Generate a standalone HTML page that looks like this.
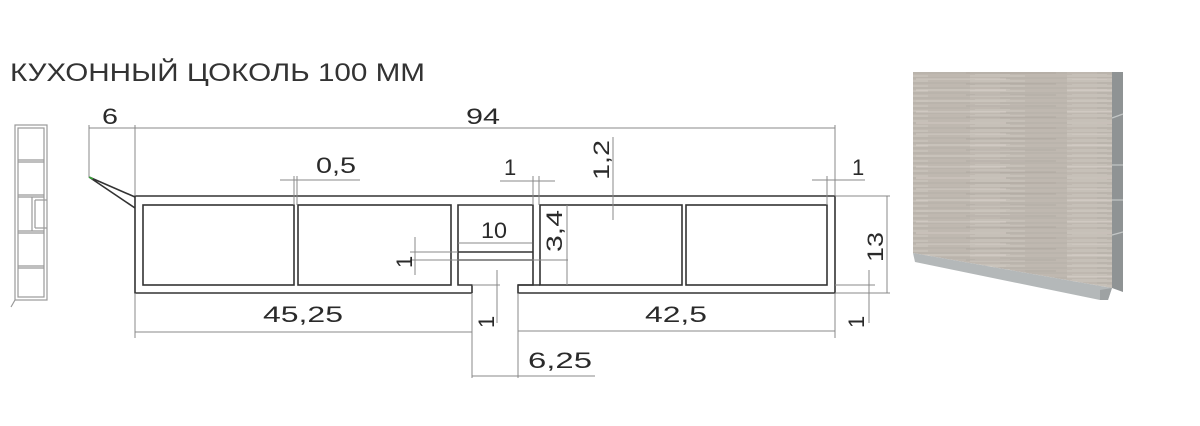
<!DOCTYPE html>
<html><head><meta charset="utf-8"><style>
html,body{margin:0;padding:0;background:#fff;width:1200px;height:426px;overflow:hidden}
svg{display:block}
text{font-family:"Liberation Sans","DejaVu Sans",sans-serif;fill:#2a2a2a}
</style></head><body>
<svg width="1200" height="426" viewBox="0 0 1200 426" xmlns="http://www.w3.org/2000/svg">
<defs>
<pattern id="grain" width="97" height="5" patternUnits="userSpaceOnUse">
<rect width="97" height="5" fill="#bfb8b0"/>
<line x1="0" y1="1" x2="55" y2="1" stroke="#d3cdc6" stroke-width="0.7"/>
<line x1="30" y1="3" x2="97" y2="3" stroke="#aea69e" stroke-width="0.6"/>
<line x1="5" y1="4.5" x2="40" y2="4.5" stroke="#cec8c1" stroke-width="0.5"/>
</pattern>
<pattern id="grain2" width="151" height="11" patternUnits="userSpaceOnUse">
<line x1="10" y1="2" x2="100" y2="2" stroke="#d8d2cb" stroke-width="0.8"/>
<line x1="60" y1="7" x2="150" y2="7" stroke="#a59d95" stroke-width="0.6"/>
</pattern>
</defs>

<text x="10" y="81" font-size="25" textLength="415" lengthAdjust="spacingAndGlyphs" style="fill:#333">КУХОННЫЙ ЦОКОЛЬ 100 ММ</text>

<!-- thumbnail -->
<g fill="none" stroke="#999" stroke-width="1.2">
<rect x="15" y="125" width="32" height="175"/>
<rect x="18" y="128" width="26" height="169"/>
<line x1="18" y1="160" x2="44" y2="160"/><line x1="18" y1="162" x2="44" y2="162"/>
<line x1="18" y1="195" x2="44" y2="195"/><line x1="18" y1="197" x2="44" y2="197"/>
<line x1="18" y1="231" x2="44" y2="231"/><line x1="18" y1="233" x2="44" y2="233"/>
<line x1="18" y1="266" x2="44" y2="266"/><line x1="18" y1="268" x2="44" y2="268"/>
<line x1="32" y1="197" x2="32" y2="231"/><line x1="35" y1="200" x2="35" y2="228"/>
<line x1="35" y1="200" x2="47" y2="200"/><line x1="35" y1="228" x2="47" y2="228"/>
<line x1="15" y1="300" x2="11" y2="307"/>
</g>

<!-- profile -->
<g fill="none" stroke="#333" stroke-width="1.6">
<path d="M472 293 H135 V196 H835 V293 H518 V285 H540"/>
<path d="M472 293 V285 H458 V205 H533 V285 H518"/>
<path d="M89 177 L135 197 M89 177 L135 208"/>
<rect x="143" y="205" width="151" height="80"/>
<rect x="298" y="205" width="153" height="80"/>
<rect x="540" y="205" width="142" height="80"/>
<rect x="686" y="205" width="141" height="80"/>
<line x1="458" y1="252" x2="533" y2="252"/>
<line x1="458" y1="260" x2="533" y2="260"/>
</g>
<line x1="89" y1="177" x2="93" y2="179" stroke="#3a3" stroke-width="1.5"/>

<!-- dimension lines -->
<g stroke="#888" stroke-width="1" fill="none">
<line x1="89" y1="128" x2="835" y2="128"/>
<line x1="89" y1="125" x2="89" y2="177"/>
<line x1="135" y1="125" x2="135" y2="196"/>
<line x1="835" y1="125" x2="835" y2="196"/>
<line x1="280" y1="180" x2="360" y2="180"/>
<line x1="294" y1="176" x2="294" y2="205"/><line x1="297" y1="176" x2="297" y2="205"/>
<line x1="500" y1="181" x2="555" y2="181"/>
<line x1="533" y1="176" x2="533" y2="205"/><line x1="539" y1="176" x2="539" y2="205"/>
<line x1="613" y1="137" x2="613" y2="220"/>
<line x1="812" y1="180" x2="865" y2="180"/>
<line x1="827" y1="176" x2="827" y2="205"/>
<line x1="458" y1="243" x2="532" y2="243"/>
<line x1="415" y1="237" x2="415" y2="275"/>
<line x1="410" y1="252" x2="458" y2="252"/>
<line x1="410" y1="260" x2="568" y2="260"/>
<line x1="567" y1="205" x2="567" y2="285"/>
<line x1="887" y1="196" x2="887" y2="293"/>
<line x1="835" y1="196" x2="890" y2="196"/>
<line x1="835" y1="293" x2="890" y2="293"/>
<line x1="835" y1="285" x2="875" y2="285"/>
<line x1="869" y1="270" x2="869" y2="323"/>
<line x1="135" y1="293" x2="135" y2="338"/>
<line x1="135" y1="332" x2="472" y2="332"/>
<line x1="835" y1="293" x2="835" y2="338"/>
<line x1="518" y1="331" x2="835" y2="331"/>
<line x1="497" y1="270" x2="497" y2="323"/>
<line x1="472" y1="285" x2="500" y2="285"/>
<line x1="472" y1="293" x2="472" y2="378"/>
<line x1="518" y1="293" x2="518" y2="378"/>
<line x1="472" y1="376" x2="595" y2="376"/>
</g>

<g font-size="22">
<text x="102" y="124" textLength="16" lengthAdjust="spacingAndGlyphs">6</text>
<text x="466" y="124" textLength="34" lengthAdjust="spacingAndGlyphs">94</text>
<text x="316" y="173" textLength="40" lengthAdjust="spacingAndGlyphs">0,5</text>
<text x="504" y="175">1</text>
<text x="852" y="175">1</text>
<text x="481" y="238" textLength="26" lengthAdjust="spacingAndGlyphs">10</text>
<text x="263" y="322" textLength="80" lengthAdjust="spacingAndGlyphs">45,25</text>
<text x="645" y="322" textLength="62" lengthAdjust="spacingAndGlyphs">42,5</text>
<text x="528" y="368" textLength="64" lengthAdjust="spacingAndGlyphs">6,25</text>
<text transform="translate(609,180) rotate(-90)" textLength="40" lengthAdjust="spacingAndGlyphs">1,2</text>
<text transform="translate(562,252) rotate(-90)" textLength="42" lengthAdjust="spacingAndGlyphs">3,4</text>
<text transform="translate(412,268) rotate(-90)">1</text>
<text transform="translate(883,262) rotate(-90)" textLength="30" lengthAdjust="spacingAndGlyphs">13</text>
<text transform="translate(864,328) rotate(-90)">1</text>
<text transform="translate(494,328) rotate(-90)">1</text>
</g>

<!-- product photo -->
<polygon points="1112,72 1123,72 1123,292 1112,288" fill="#8f9394"/>
<g stroke="#c3c6c6" stroke-width="1.2">
<line x1="1112" y1="118" x2="1123" y2="114"/><line x1="1112" y1="165" x2="1123" y2="165"/>
<line x1="1112" y1="200" x2="1123" y2="200"/><line x1="1112" y1="235" x2="1123" y2="232"/>
</g>
<polygon points="913,72 1112,72 1112,288 913,253" fill="url(#grain)"/>
<polygon points="913,72 1112,72 1112,288 913,253" fill="url(#grain2)"/>
<polygon points="913,253 1112,288 1108,300 1100,300 915,262" fill="#b4b8b9"/>
<polygon points="1100,290 1112,288 1108,300 1100,300" fill="#9ea2a3"/>
</svg>
</body></html>
